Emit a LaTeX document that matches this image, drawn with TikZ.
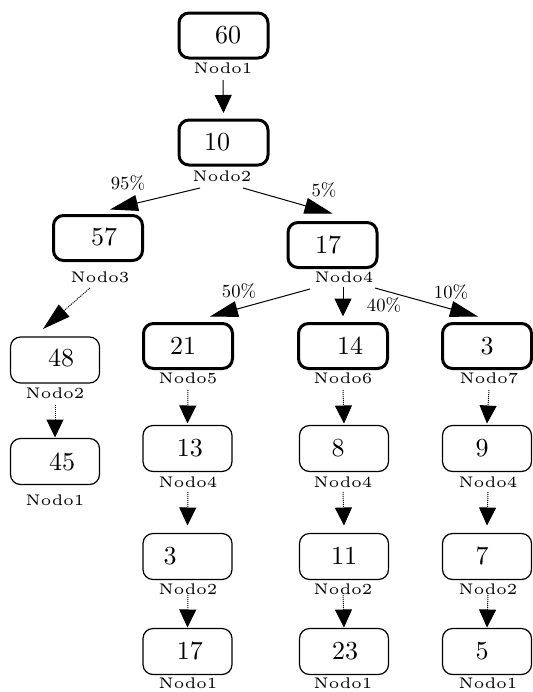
\documentclass[tikz,border=0pt]{standalone}
\usetikzlibrary{arrows.meta,calc}
\font\labfont=cmr5 at 7.7pt
\font\numfont=cmr10 at 13pt
\font\pctfont=cmr10 at 9.3pt
\tikzset{
 boxthick/.style={draw, line width=1.5pt, rounded corners=5pt, minimum width=44.5pt, minimum height=22.5pt, inner sep=0pt, outer sep=0pt},
 boxthin/.style={draw, line width=0.6pt, rounded corners=5pt, minimum width=44.5pt, minimum height=23pt, inner sep=0pt, outer sep=0pt},
 num/.style={font=\numfont, inner sep=0pt},
 lab/.style={font=\labfont, inner sep=0pt},
 pct/.style={font=\pctfont, inner sep=0pt},
 arr/.style={line width=0.5pt, -{Triangle[length=9pt,width=8.5pt]}},
 sarr/.style={line width=0.5pt, -{Triangle[length=14pt,width=8pt]}},
 dots/.style={dash pattern=on 0.5pt off 0.5pt},
}
\begin{document}
\begin{tikzpicture}[x=0.5pt,y=-0.5pt]
\useasboundingbox (0,0) rectangle (533,692);
% boxes
\node[boxthick] (b60) at (223.5,35.5) {};
\node[boxthick] (b10) at (223.5,142.5) {};
\node[boxthick] (b57) at (98,238) {};
\node[boxthick] (b17) at (332.5,245) {};
\node[boxthick] (b21) at (188,346) {};
\node[boxthick] (b14) at (343,346) {};
\node[boxthick] (b3a) at (487,346) {};
\node[boxthin] (b48) at (55,360) {};
\node[boxthin] (b45) at (55,461.5) {};
\node[boxthin] (b13) at (187.5,448.5) {};
\node[boxthin] (b8) at (344,448.5) {};
\node[boxthin] (b9) at (487,448.5) {};
\node[boxthin] (b3b) at (187.5,556.5) {};
\node[boxthin] (b11) at (344,556.5) {};
\node[boxthin] (b7) at (487,556.5) {};
\node[boxthin] (b17b) at (187.5,651.5) {};
\node[boxthin] (b23) at (344,651.5) {};
\node[boxthin] (b5) at (487,651.5) {};
% numbers
\node[num] (t60) at (228,35) {60};
\node[num] (t10) at (217,142) {10};
\node[num] (t57) at (104,237) {57};
\node[num] (t17) at (328,245) {17};
\node[num] (t21) at (183,346) {21};
\node[num] (t14) at (350,346) {14};
\node[num] (t3a) at (487,346) {3};
\node[num] (t48) at (61,358) {48};
\node[num] (t45) at (62,462) {45};
\node[num] (t13) at (190,448) {13};
\node[num] (t8) at (338,448) {8};
\node[num] (t9) at (482,448) {9};
\node[num] (t3b) at (170,556) {3};
\node[num] (t11) at (344,556) {11};
\node[num] (t7) at (482,556) {7};
\node[num] (t17b) at (190,651) {17};
\node[num] (t23) at (345,651) {23};
\node[num] (t5) at (482,651) {5};
% labels
\node[lab] (l1) at (223,68) {Nodo1};
\node[lab] (l2) at (222,176) {Nodo2};
\node[lab] (l3) at (100,277) {Nodo3};
\node[lab] (l4) at (344,277) {Nodo4};
\node[lab] (l2b) at (55,393) {Nodo2};
\node[lab] (l1b) at (55,500) {Nodo1};
\node[lab] (l5) at (188,378) {Nodo5};
\node[lab] (l6) at (343,378) {Nodo6};
\node[lab] (l7) at (489,378) {Nodo7};
\node[lab] (l4a) at (188,482) {Nodo4};
\node[lab] (l4b) at (343,482) {Nodo4};
\node[lab] (l4c) at (488,482) {Nodo4};
\node[lab] (l2c) at (188,589) {Nodo2};
\node[lab] (l2d) at (343,589) {Nodo2};
\node[lab] (l2e) at (488,589) {Nodo2};
\node[lab] (l1c) at (188,683) {Nodo1};
\node[lab] (l1d) at (343,683) {Nodo1};
\node[lab] (l1e) at (488,683) {Nodo1};
% percentages
\node[pct] (p95) at (128,183) {95\%};
\node[pct] (p5) at (324,190) {5\%};
\node[pct] (p50) at (239,291) {50\%};
\node[pct] (p40) at (384,305) {40\%};
\node[pct] (p10) at (451,292) {10\%};
% connectors
\draw[arr] ($(l1)+(0,12)$) -- ($(b10.north)+(0,-7)$);
\draw[sarr] ($(l2)+(-22,12)$) -- ($(b57.north)+(12,-6)$);
\draw[sarr] ($(l2)+(21,12)$) -- ($(b17.north)+(0,-9)$);
\draw[sarr,dots] ($(l3)+(-10,11)$) -- ($(b48.north)+(-12,-8)$);
\draw[sarr] ($(l4)+(-34,12)$) -- ($(b21.north)+(22,-7)$);
\draw[arr] ($(l4)+(-1,10)$) -- ($(b14.north)+(0,-7)$);
\draw[sarr] ($(l4)+(31,11)$) -- ($(b3a.north)+(-9,-7)$);
\draw[arr,dots] ($(l2b)+(0,12)$) -- ($(b45.north)+(0,-1)$);
\draw[arr,dots] ($(l5)+(0,12)$) -- ($(b13.north)+(0,-2)$);
\draw[arr,dots] ($(l6)+(0,12)$) -- ($(b8.north)+(0,-2)$);
\draw[arr,dots] ($(l7)+(0,12)$) -- ($(b9.north)+(0,-2)$);
\draw[arr,dots] ($(l4a)+(0,10)$) -- ($(b3b.north)+(0,-8)$);
\draw[arr,dots] ($(l4b)+(0,10)$) -- ($(b11.north)+(0,-8)$);
\draw[arr,dots] ($(l4c)+(0,10)$) -- ($(b7.north)+(0,-8)$);
\draw[arr,dots] ($(l2c)+(0,4)$) -- ($(b17b.north)+(0,-1)$);
\draw[arr,dots] ($(l2d)+(0,4)$) -- ($(b23.north)+(0,-1)$);
\draw[arr,dots] ($(l2e)+(0,4)$) -- ($(b5.north)+(0,-1)$);
\end{tikzpicture}
\end{document}
